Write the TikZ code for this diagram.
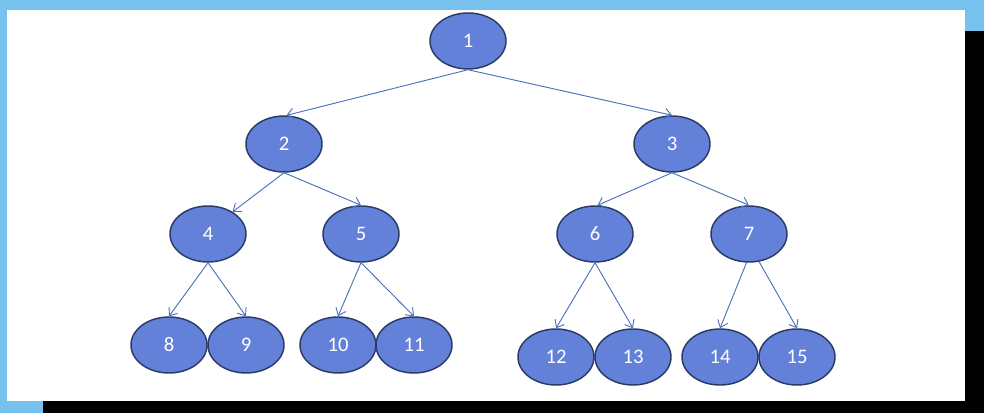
\documentclass[tikz,border=0pt]{standalone}
\usepackage{fontspec}
\setmainfont{Carlito}
\usetikzlibrary{arrows.meta,shapes.geometric}
\definecolor{bandblue}{HTML}{77C1EF}
\definecolor{nodefill}{HTML}{6381D9}
\definecolor{nodeline}{HTML}{2B3B68}
\definecolor{edgecol}{HTML}{4A72BC}
\begin{document}
\begin{tikzpicture}[x=0.75pt,y=-0.75pt,
  treenode/.style={ellipse,draw=nodeline,line width=1.1pt,fill=nodefill,
    minimum width=57pt,minimum height=42pt,inner sep=0pt,text=white,
    font=\fontsize{15.5}{18}\selectfont},
  edge/.style={draw=edgecol,line width=0.7pt,-{Straight Barb[length=5pt,width=8pt]}}]
\useasboundingbox (0,0) rectangle (984,413);
% frame
\fill[bandblue] (0,0) rectangle (984,413);
\fill[black] (965,31) rectangle (984,413);
\fill[black] (43,401) rectangle (984,413);
\fill[white] (7,10) rectangle (965,401);
% nodes
\node[treenode] (n1) at (468,41) {1};
\node[treenode] (n2) at (284,144) {2};
\node[treenode] (n3) at (672,144) {3};
\node[treenode] (n4) at (208,234) {4};
\node[treenode] (n5) at (361,234) {5};
\node[treenode] (n6) at (595,234) {6};
\node[treenode] (n7) at (749,234) {7};
\node[treenode] (n8) at (169,345) {8};
\node[treenode] (n9) at (246,345) {9};
\node[treenode] (n10) at (338,345) {10};
\node[treenode] (n11) at (414,345) {11};
\node[treenode] (n12) at (556,357) {12};
\node[treenode] (n13) at (633,357) {13};
\node[treenode] (n14) at (720,357) {14};
\node[treenode] (n15) at (797,357) {15};
% edges
\draw[edge] (n1.south) -- (n2.85);
\draw[edge] (n1.south) -- (n3.north);
\draw[edge] (n2.south) -- (n4.42);
\draw[edge] (n2.south) -- (n5.north);
\draw[edge] (n3.south) -- (n6.85);
\draw[edge] (n3.south) -- (n7.north);
\draw[edge] (n4.south) -- (n8.north);
\draw[edge] (n4.south) -- (n9.north);
\draw[edge] (n5.south) -- (n10.north);
\draw[edge] (n5.south) -- (n11.north);
\draw[edge] (n6.south) -- (n12.north);
\draw[edge] (n6.south) -- (n13.north);
\draw[edge] (n7.-95) -- (n14.north);
\draw[edge] (n7.-70) -- (n15.north);
\end{tikzpicture}
\end{document}
